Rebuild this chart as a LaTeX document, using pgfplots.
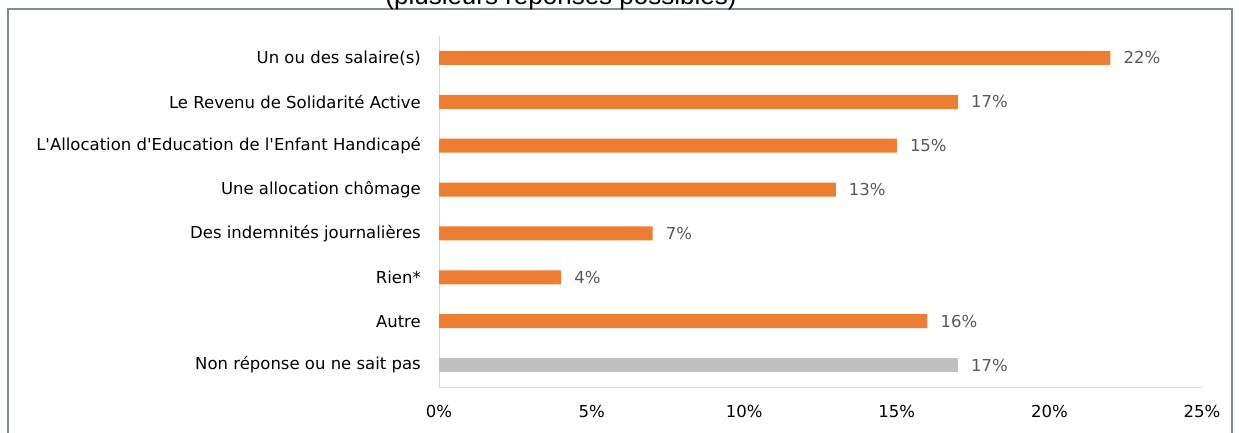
\documentclass[border=0pt]{standalone}
\usepackage{pgfplots}
\pgfplotsset{compat=1.18}
\usepackage{fontspec}
\setmainfont{DejaVu Sans}[Ligatures=TeXOff]
\newfontfamily\titlefont{Liberation Sans}
\definecolor{barorange}{HTML}{ED7D31}
\definecolor{bargray}{HTML}{BFBFBF}
\definecolor{framec}{HTML}{7F8F98}
\definecolor{axisc}{HTML}{D9D9D9}
\definecolor{labc}{HTML}{595959}
\begin{document}
\begin{tikzpicture}[x=1pt,y=1pt]
\useasboundingbox (0,0) rectangle (1239,432);
\draw[framec, line width=2pt] (8,-20) -- (8,423) -- (1232,423) -- (1232,-20);
\node[font=\titlefont\fontsize{26}{30}\selectfont, anchor=base] at (561,427) {(plusieurs réponses possibles)};
\begin{axis}[
  at={(439pt,45pt)}, anchor=south west,
  scale only axis, width=763pt, height=351pt,
  xmin=0, xmax=25, ymin=-0.5, ymax=7.5, y dir=reverse,
  axis x line*=bottom, axis y line*=left,
  x axis line style={draw=axisc, line width=1pt, -},
  y axis line style={draw=axisc, line width=1pt, -},
  major tick length=0pt,
  /pgf/number format/assume math mode=true,
  xtick={0,5,10,15,20,25},
  xticklabels={0\%,5\%,10\%,15\%,20\%,25\%},
  ytick={0,...,7},
  yticklabels={Un ou des salaire(s),Le Revenu de Solidarité Active,{L'Allocation d'Education de l'Enfant Handicapé\ },Une allocation chômage,Des indemnités journalières,Rien*,Autre,{Non réponse ou ne sait pas\ }},
  ticklabel style={font=\fontsize{16.5}{19}\selectfont, text=black, inner sep=0pt},
  yticklabel style={xshift=-18pt},
  xticklabel style={yshift=-18pt},
  xbar, bar width=14pt, bar shift=0pt,
  nodes near coords={\pgfmathprintnumber[assume math mode=true]{\pgfplotspointmeta}\%},
  point meta=x,
  nodes near coords style={font=\fontsize{16.5}{19}\selectfont, text=labc, anchor=west, inner sep=0pt, xshift=13pt},
  clip=false,
]
\addplot[fill=barorange, draw=none] coordinates {(22,0) (17,1) (15,2) (13,3) (7,4) (4,5) (16,6)};
\addplot[fill=bargray, draw=none] coordinates {(17,7)};
\end{axis}
\end{tikzpicture}
\end{document}
